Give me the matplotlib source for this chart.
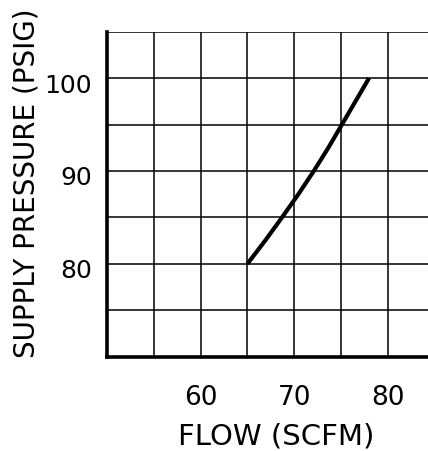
import matplotlib
matplotlib.use("Agg")
import matplotlib.pyplot as plt
import matplotlib.transforms as mtransforms

# Data
flow = [65.0, 66.9, 68.7, 70.45, 72.1, 73.65, 75.1, 76.55, 78.0]
pressure = [80.0, 82.5, 85.0, 87.5, 90.0, 92.5, 95.0, 97.5, 100.0]
x_ticks = [60, 70, 80]
y_ticks = [80, 90, 100]
x_grid = [55, 60, 65, 70, 75, 80]
y_grid = [75, 80, 85, 90, 95, 100, 105]

plt.rcParams['font.family'] = ['DejaVu Sans']

fig = plt.figure(figsize=(4.28, 4.52), dpi=100)
ax = fig.add_axes([107/428, 1 - 357.7/452, 1 - 107/428, (357.7 - 32.7)/452])
ax.set_xlim(50, 84.3)
ax.set_ylim(70, 105)

for xv in x_grid:
    ax.axvline(xv, color='black', lw=1.1, zorder=1)
for yv in y_grid:
    ax.axhline(yv, color='black', lw=1.1, zorder=1)

ax.plot(flow, pressure, color='black', lw=3.0, solid_capstyle='butt', zorder=3)

ax.set_xticks(x_ticks)
ax.set_yticks(y_ticks)
ax.set_xticklabels([str(v) for v in x_ticks], fontsize=19)
ax.set_yticklabels([str(v) for v in y_ticks], fontsize=18)
ax.tick_params(length=0)
ax.tick_params(axis='x', pad=20)
ax.tick_params(axis='y', pad=11)
off = mtransforms.ScaledTranslation(0, -4/100, fig.dpi_scale_trans)
for lbl in ax.get_yticklabels():
    lbl.set_transform(lbl.get_transform() + off)

for side in ['right', 'top']:
    ax.spines[side].set_visible(False)
for side in ['left', 'bottom']:
    ax.spines[side].set_linewidth(2.6)

fig.text(27/428, 1 - 183/452, 'SUPPLY PRESSURE (PSIG)', rotation=90,
         ha='center', va='center', fontsize=20)
fig.text(276/428, 1 - 437/452, 'FLOW (SCFM)', ha='center', va='center',
         fontsize=21)

fig.savefig('out.png', dpi=100)
